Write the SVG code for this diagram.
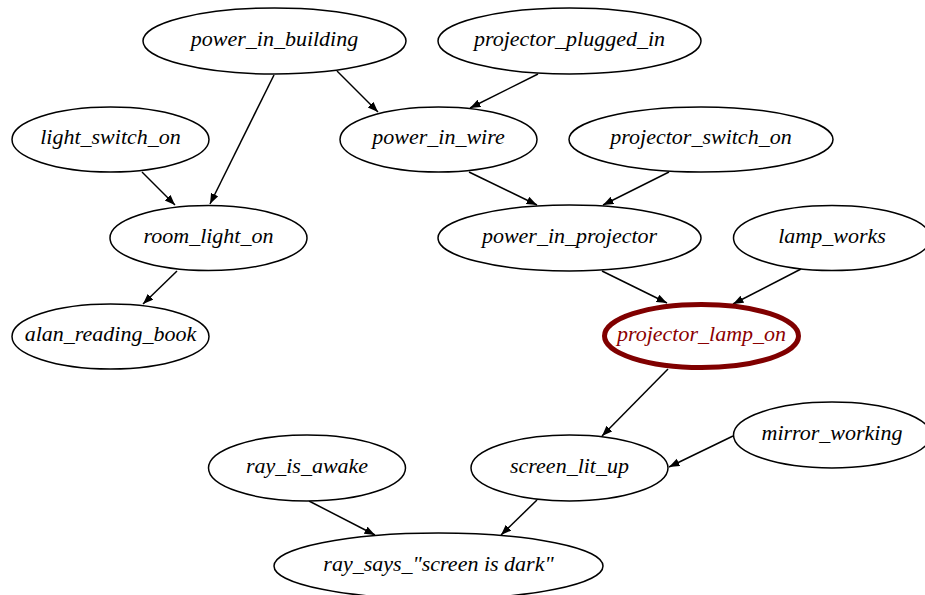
<svg xmlns="http://www.w3.org/2000/svg" width="925" height="595" viewBox="0 0 925 595">
<style>
.n ellipse{fill:#fff;stroke:#000;stroke-width:1.5}
.n text{font-family:'Liberation Serif','DejaVu Serif',serif;font-style:italic;font-size:22px;text-anchor:middle;fill:#000}
#projector_lamp_on ellipse{stroke:#800000;stroke-width:5}
#projector_lamp_on text{fill:#8b0000}
.e line{stroke:#000;stroke-width:1.5;marker-end:url(#ah)}
</style>
<defs>
<marker id="ah" markerUnits="userSpaceOnUse" markerWidth="12" markerHeight="9" refX="10.5" refY="4" orient="auto">
<path d="M0,0 L10.5,4 L0,8 z" fill="#000"/>
</marker>
</defs>
<rect width="925" height="595" fill="#fff"/>
<g id="edges" class="e">
<line x1="274" y1="75" x2="210" y2="204"/>
<line x1="337" y1="71" x2="378" y2="112"/>
<line x1="142" y1="172" x2="175" y2="205"/>
<line x1="177" y1="271" x2="143" y2="304"/>
<line x1="538" y1="74" x2="470" y2="108"/>
<line x1="469" y1="172" x2="537" y2="205"/>
<line x1="669" y1="172" x2="603" y2="205"/>
<line x1="602" y1="271" x2="667" y2="303"/>
<line x1="801" y1="269" x2="733" y2="304"/>
<line x1="668" y1="369" x2="602" y2="436"/>
<line x1="733" y1="436" x2="669" y2="467"/>
<line x1="309" y1="501" x2="375" y2="535"/>
<line x1="537" y1="500" x2="501" y2="535"/>
</g>
<g id="power_in_building" class="n"><ellipse cx="274.5" cy="41" rx="131.5" ry="33"/><text x="274.5" y="45.5">power_in_building</text></g>
<g id="projector_plugged_in" class="n"><ellipse cx="569.5" cy="41" rx="131.5" ry="33"/><text x="569.5" y="45.5">projector_plugged_in</text></g>
<g id="light_switch_on" class="n"><ellipse cx="110.5" cy="139.5" rx="98.5" ry="32.5"/><text x="110.5" y="144">light_switch_on</text></g>
<g id="power_in_wire" class="n"><ellipse cx="438.5" cy="139.5" rx="98.5" ry="32.5"/><text x="438.5" y="144">power_in_wire</text></g>
<g id="projector_switch_on" class="n"><ellipse cx="701" cy="139.5" rx="132" ry="32.5"/><text x="701" y="144">projector_switch_on</text></g>
<g id="room_light_on" class="n"><ellipse cx="208.5" cy="238" rx="98.5" ry="32.5"/><text x="208.5" y="242.5">room_light_on</text></g>
<g id="power_in_projector" class="n"><ellipse cx="569.5" cy="238" rx="131.5" ry="33"/><text x="569.5" y="242.5">power_in_projector</text></g>
<g id="lamp_works" class="n"><ellipse cx="832" cy="238" rx="98.5" ry="32.5"/><text x="832" y="242.5">lamp_works</text></g>
<g id="alan_reading_book" class="n"><ellipse cx="110.5" cy="336.5" rx="98.5" ry="32.5"/><text x="110.5" y="341">alan_reading_book</text></g>
<g id="projector_lamp_on" class="n"><ellipse cx="701.5" cy="336" rx="97" ry="31.5"/><text x="701.5" y="340.5">projector_lamp_on</text></g>
<g id="mirror_working" class="n"><ellipse cx="832" cy="435" rx="98.5" ry="33"/><text x="832" y="439.5">mirror_working</text></g>
<g id="ray_is_awake" class="n"><ellipse cx="307" cy="468" rx="98.5" ry="33"/><text x="307" y="472.5">ray_is_awake</text></g>
<g id="screen_lit_up" class="n"><ellipse cx="569.5" cy="468" rx="98.5" ry="33"/><text x="569.5" y="472.5">screen_lit_up</text></g>
<g id="ray_says" class="n"><ellipse cx="438.5" cy="566" rx="164.5" ry="33"/><text x="438.5" y="570.5">ray_says_"screen is dark"</text></g>
</svg>
